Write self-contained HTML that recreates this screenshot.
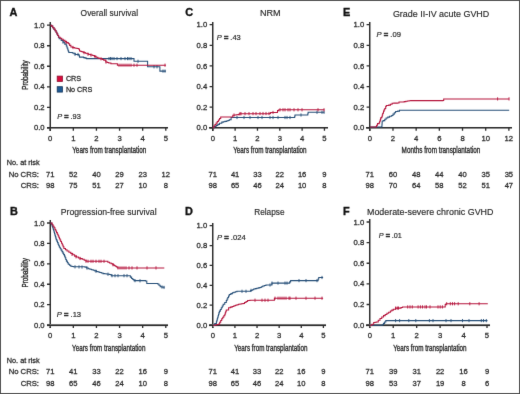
<!DOCTYPE html><html><head><meta charset="utf-8"><style>html,body{margin:0;padding:0;background:#fff;}svg{display:block;font-family:"Liberation Sans", sans-serif;}</style></head><body>
<svg width="520" height="394" viewBox="0 0 520 394">
<defs><filter id="bl" x="-1%" y="-1%" width="102%" height="102%" color-interpolation-filters="sRGB"><feConvolveMatrix order="3" kernelMatrix="0.0052 0.0619 0.0052 0.0619 0.7314 0.0619 0.0052 0.0619 0.0052" edgeMode="duplicate" preserveAlpha="true"/></filter></defs>
<g filter="url(#bl)">
<rect x="0" y="0" width="520" height="394" fill="#fff"/>
<rect x="0.5" y="0.5" width="519" height="393" fill="none" stroke="#5a5a5a" stroke-width="1"/>
<rect x="50" y="22" width="1" height="109" fill="#2d2d2d" shape-rendering="crispEdges"/>
<rect x="49" y="22" width="1" height="109" fill="#9a9a9a" shape-rendering="crispEdges"/>
<rect x="47" y="127" width="121" height="1" fill="#2b2b2b" shape-rendering="crispEdges"/>
<rect x="47" y="128" width="121" height="1" fill="#8a8a8a" shape-rendering="crispEdges"/>
<path d="M47 127.85H50.2M47 107.32H50.2M47 86.79H50.2M47 66.26H50.2M47 45.73H50.2M47 25.2H50.2M50.2 127.85V130.65M73.32 127.85V130.65M96.44 127.85V130.65M119.56 127.85V130.65M142.68 127.85V130.65M165.8 127.85V130.65" stroke="#2b2b2b" stroke-width="1.3" fill="none"/>
<text x="44.6" y="130.45" font-size="7.7" text-anchor="end" font-weight="normal" font-style="normal" fill="#2a2a2a" stroke="#2a2a2a" stroke-width="0.26">0.0</text>
<text x="44.6" y="109.92" font-size="7.7" text-anchor="end" font-weight="normal" font-style="normal" fill="#2a2a2a" stroke="#2a2a2a" stroke-width="0.26">0.2</text>
<text x="44.6" y="89.39" font-size="7.7" text-anchor="end" font-weight="normal" font-style="normal" fill="#2a2a2a" stroke="#2a2a2a" stroke-width="0.26">0.4</text>
<text x="44.6" y="68.86" font-size="7.7" text-anchor="end" font-weight="normal" font-style="normal" fill="#2a2a2a" stroke="#2a2a2a" stroke-width="0.26">0.6</text>
<text x="44.6" y="48.33" font-size="7.7" text-anchor="end" font-weight="normal" font-style="normal" fill="#2a2a2a" stroke="#2a2a2a" stroke-width="0.26">0.8</text>
<text x="44.6" y="27.8" font-size="7.7" text-anchor="end" font-weight="normal" font-style="normal" fill="#2a2a2a" stroke="#2a2a2a" stroke-width="0.26">1.0</text>
<text x="50.2" y="140.65" font-size="7.7" text-anchor="middle" font-weight="normal" font-style="normal" fill="#2a2a2a" stroke="#2a2a2a" stroke-width="0.26">0</text>
<text x="73.32" y="140.65" font-size="7.7" text-anchor="middle" font-weight="normal" font-style="normal" fill="#2a2a2a" stroke="#2a2a2a" stroke-width="0.26">1</text>
<text x="96.44" y="140.65" font-size="7.7" text-anchor="middle" font-weight="normal" font-style="normal" fill="#2a2a2a" stroke="#2a2a2a" stroke-width="0.26">2</text>
<text x="119.56" y="140.65" font-size="7.7" text-anchor="middle" font-weight="normal" font-style="normal" fill="#2a2a2a" stroke="#2a2a2a" stroke-width="0.26">3</text>
<text x="142.68" y="140.65" font-size="7.7" text-anchor="middle" font-weight="normal" font-style="normal" fill="#2a2a2a" stroke="#2a2a2a" stroke-width="0.26">4</text>
<text x="165.8" y="140.65" font-size="7.7" text-anchor="middle" font-weight="normal" font-style="normal" fill="#2a2a2a" stroke="#2a2a2a" stroke-width="0.26">5</text>
<rect x="50" y="220" width="1" height="108" fill="#2d2d2d" shape-rendering="crispEdges"/>
<rect x="49" y="220" width="1" height="108" fill="#9a9a9a" shape-rendering="crispEdges"/>
<rect x="47" y="324" width="121" height="1" fill="#737373" shape-rendering="crispEdges"/>
<rect x="47" y="325" width="121" height="1" fill="#292929" shape-rendering="crispEdges"/>
<rect x="47" y="326" width="121" height="1" fill="#e8e8e8" shape-rendering="crispEdges"/>
<path d="M47 325.1H50.2M47 304.68H50.2M47 284.26H50.2M47 263.84H50.2M47 243.42H50.2M47 223H50.2M50.2 325.1V327.9M73.32 325.1V327.9M96.44 325.1V327.9M119.56 325.1V327.9M142.68 325.1V327.9M165.8 325.1V327.9" stroke="#2b2b2b" stroke-width="1.3" fill="none"/>
<text x="44.6" y="327.7" font-size="7.7" text-anchor="end" font-weight="normal" font-style="normal" fill="#2a2a2a" stroke="#2a2a2a" stroke-width="0.26">0.0</text>
<text x="44.6" y="307.28" font-size="7.7" text-anchor="end" font-weight="normal" font-style="normal" fill="#2a2a2a" stroke="#2a2a2a" stroke-width="0.26">0.2</text>
<text x="44.6" y="286.86" font-size="7.7" text-anchor="end" font-weight="normal" font-style="normal" fill="#2a2a2a" stroke="#2a2a2a" stroke-width="0.26">0.4</text>
<text x="44.6" y="266.44" font-size="7.7" text-anchor="end" font-weight="normal" font-style="normal" fill="#2a2a2a" stroke="#2a2a2a" stroke-width="0.26">0.6</text>
<text x="44.6" y="246.02" font-size="7.7" text-anchor="end" font-weight="normal" font-style="normal" fill="#2a2a2a" stroke="#2a2a2a" stroke-width="0.26">0.8</text>
<text x="44.6" y="225.6" font-size="7.7" text-anchor="end" font-weight="normal" font-style="normal" fill="#2a2a2a" stroke="#2a2a2a" stroke-width="0.26">1.0</text>
<text x="50.2" y="337.9" font-size="7.7" text-anchor="middle" font-weight="normal" font-style="normal" fill="#2a2a2a" stroke="#2a2a2a" stroke-width="0.26">0</text>
<text x="73.32" y="337.9" font-size="7.7" text-anchor="middle" font-weight="normal" font-style="normal" fill="#2a2a2a" stroke="#2a2a2a" stroke-width="0.26">1</text>
<text x="96.44" y="337.9" font-size="7.7" text-anchor="middle" font-weight="normal" font-style="normal" fill="#2a2a2a" stroke="#2a2a2a" stroke-width="0.26">2</text>
<text x="119.56" y="337.9" font-size="7.7" text-anchor="middle" font-weight="normal" font-style="normal" fill="#2a2a2a" stroke="#2a2a2a" stroke-width="0.26">3</text>
<text x="142.68" y="337.9" font-size="7.7" text-anchor="middle" font-weight="normal" font-style="normal" fill="#2a2a2a" stroke="#2a2a2a" stroke-width="0.26">4</text>
<text x="165.8" y="337.9" font-size="7.7" text-anchor="middle" font-weight="normal" font-style="normal" fill="#2a2a2a" stroke="#2a2a2a" stroke-width="0.26">5</text>
<rect x="212" y="22" width="1" height="109" fill="#2d2d2d" shape-rendering="crispEdges"/>
<rect x="213" y="22" width="1" height="109" fill="#9a9a9a" shape-rendering="crispEdges"/>
<rect x="209" y="127" width="119" height="1" fill="#2b2b2b" shape-rendering="crispEdges"/>
<rect x="209" y="128" width="119" height="1" fill="#8a8a8a" shape-rendering="crispEdges"/>
<path d="M209.6 127.85H212.8M209.6 107.22H212.8M209.6 86.59H212.8M209.6 65.96H212.8M209.6 45.33H212.8M209.6 24.7H212.8M212.8 127.85V130.65M235.13 127.85V130.65M257.46 127.85V130.65M279.79 127.85V130.65M302.12 127.85V130.65M324.45 127.85V130.65" stroke="#2b2b2b" stroke-width="1.3" fill="none"/>
<text x="207.2" y="130.45" font-size="7.7" text-anchor="end" font-weight="normal" font-style="normal" fill="#2a2a2a" stroke="#2a2a2a" stroke-width="0.26">0.0</text>
<text x="207.2" y="109.82" font-size="7.7" text-anchor="end" font-weight="normal" font-style="normal" fill="#2a2a2a" stroke="#2a2a2a" stroke-width="0.26">0.2</text>
<text x="207.2" y="89.19" font-size="7.7" text-anchor="end" font-weight="normal" font-style="normal" fill="#2a2a2a" stroke="#2a2a2a" stroke-width="0.26">0.4</text>
<text x="207.2" y="68.56" font-size="7.7" text-anchor="end" font-weight="normal" font-style="normal" fill="#2a2a2a" stroke="#2a2a2a" stroke-width="0.26">0.6</text>
<text x="207.2" y="47.93" font-size="7.7" text-anchor="end" font-weight="normal" font-style="normal" fill="#2a2a2a" stroke="#2a2a2a" stroke-width="0.26">0.8</text>
<text x="207.2" y="27.3" font-size="7.7" text-anchor="end" font-weight="normal" font-style="normal" fill="#2a2a2a" stroke="#2a2a2a" stroke-width="0.26">1.0</text>
<text x="212.8" y="140.65" font-size="7.7" text-anchor="middle" font-weight="normal" font-style="normal" fill="#2a2a2a" stroke="#2a2a2a" stroke-width="0.26">0</text>
<text x="235.13" y="140.65" font-size="7.7" text-anchor="middle" font-weight="normal" font-style="normal" fill="#2a2a2a" stroke="#2a2a2a" stroke-width="0.26">1</text>
<text x="257.46" y="140.65" font-size="7.7" text-anchor="middle" font-weight="normal" font-style="normal" fill="#2a2a2a" stroke="#2a2a2a" stroke-width="0.26">2</text>
<text x="279.79" y="140.65" font-size="7.7" text-anchor="middle" font-weight="normal" font-style="normal" fill="#2a2a2a" stroke="#2a2a2a" stroke-width="0.26">3</text>
<text x="302.12" y="140.65" font-size="7.7" text-anchor="middle" font-weight="normal" font-style="normal" fill="#2a2a2a" stroke="#2a2a2a" stroke-width="0.26">4</text>
<text x="324.45" y="140.65" font-size="7.7" text-anchor="middle" font-weight="normal" font-style="normal" fill="#2a2a2a" stroke="#2a2a2a" stroke-width="0.26">5</text>
<rect x="212" y="223" width="1" height="105" fill="#2d2d2d" shape-rendering="crispEdges"/>
<rect x="213" y="223" width="1" height="105" fill="#9a9a9a" shape-rendering="crispEdges"/>
<rect x="209" y="324" width="117" height="1" fill="#737373" shape-rendering="crispEdges"/>
<rect x="209" y="325" width="117" height="1" fill="#292929" shape-rendering="crispEdges"/>
<rect x="209" y="326" width="117" height="1" fill="#e8e8e8" shape-rendering="crispEdges"/>
<path d="M209.6 325.1H212.8M209.6 305.22H212.8M209.6 285.34H212.8M209.6 265.46H212.8M209.6 245.58H212.8M209.6 225.7H212.8M212.8 325.1V327.9M234.92 325.1V327.9M257.04 325.1V327.9M279.16 325.1V327.9M301.28 325.1V327.9M323.4 325.1V327.9" stroke="#2b2b2b" stroke-width="1.3" fill="none"/>
<text x="207.2" y="327.7" font-size="7.7" text-anchor="end" font-weight="normal" font-style="normal" fill="#2a2a2a" stroke="#2a2a2a" stroke-width="0.26">0.0</text>
<text x="207.2" y="307.82" font-size="7.7" text-anchor="end" font-weight="normal" font-style="normal" fill="#2a2a2a" stroke="#2a2a2a" stroke-width="0.26">0.2</text>
<text x="207.2" y="287.94" font-size="7.7" text-anchor="end" font-weight="normal" font-style="normal" fill="#2a2a2a" stroke="#2a2a2a" stroke-width="0.26">0.4</text>
<text x="207.2" y="268.06" font-size="7.7" text-anchor="end" font-weight="normal" font-style="normal" fill="#2a2a2a" stroke="#2a2a2a" stroke-width="0.26">0.6</text>
<text x="207.2" y="248.18" font-size="7.7" text-anchor="end" font-weight="normal" font-style="normal" fill="#2a2a2a" stroke="#2a2a2a" stroke-width="0.26">0.8</text>
<text x="207.2" y="228.3" font-size="7.7" text-anchor="end" font-weight="normal" font-style="normal" fill="#2a2a2a" stroke="#2a2a2a" stroke-width="0.26">1.0</text>
<text x="212.8" y="337.9" font-size="7.7" text-anchor="middle" font-weight="normal" font-style="normal" fill="#2a2a2a" stroke="#2a2a2a" stroke-width="0.26">0</text>
<text x="234.92" y="337.9" font-size="7.7" text-anchor="middle" font-weight="normal" font-style="normal" fill="#2a2a2a" stroke="#2a2a2a" stroke-width="0.26">1</text>
<text x="257.04" y="337.9" font-size="7.7" text-anchor="middle" font-weight="normal" font-style="normal" fill="#2a2a2a" stroke="#2a2a2a" stroke-width="0.26">2</text>
<text x="279.16" y="337.9" font-size="7.7" text-anchor="middle" font-weight="normal" font-style="normal" fill="#2a2a2a" stroke="#2a2a2a" stroke-width="0.26">3</text>
<text x="301.28" y="337.9" font-size="7.7" text-anchor="middle" font-weight="normal" font-style="normal" fill="#2a2a2a" stroke="#2a2a2a" stroke-width="0.26">4</text>
<text x="323.4" y="337.9" font-size="7.7" text-anchor="middle" font-weight="normal" font-style="normal" fill="#2a2a2a" stroke="#2a2a2a" stroke-width="0.26">5</text>
<rect x="369" y="22" width="1" height="109" fill="#2d2d2d" shape-rendering="crispEdges"/>
<rect x="370" y="22" width="1" height="109" fill="#9a9a9a" shape-rendering="crispEdges"/>
<rect x="366" y="127" width="146" height="1" fill="#2b2b2b" shape-rendering="crispEdges"/>
<rect x="366" y="128" width="146" height="1" fill="#8a8a8a" shape-rendering="crispEdges"/>
<path d="M366.6 127.85H369.8M366.6 107.22H369.8M366.6 86.59H369.8M366.6 65.96H369.8M366.6 45.33H369.8M366.6 24.7H369.8M369.8 127.85V130.65M392.98 127.85V130.65M416.16 127.85V130.65M439.34 127.85V130.65M462.52 127.85V130.65M485.7 127.85V130.65M508.88 127.85V130.65" stroke="#2b2b2b" stroke-width="1.3" fill="none"/>
<text x="364.2" y="130.45" font-size="7.7" text-anchor="end" font-weight="normal" font-style="normal" fill="#2a2a2a" stroke="#2a2a2a" stroke-width="0.26">0.0</text>
<text x="364.2" y="109.82" font-size="7.7" text-anchor="end" font-weight="normal" font-style="normal" fill="#2a2a2a" stroke="#2a2a2a" stroke-width="0.26">0.2</text>
<text x="364.2" y="89.19" font-size="7.7" text-anchor="end" font-weight="normal" font-style="normal" fill="#2a2a2a" stroke="#2a2a2a" stroke-width="0.26">0.4</text>
<text x="364.2" y="68.56" font-size="7.7" text-anchor="end" font-weight="normal" font-style="normal" fill="#2a2a2a" stroke="#2a2a2a" stroke-width="0.26">0.6</text>
<text x="364.2" y="47.93" font-size="7.7" text-anchor="end" font-weight="normal" font-style="normal" fill="#2a2a2a" stroke="#2a2a2a" stroke-width="0.26">0.8</text>
<text x="364.2" y="27.3" font-size="7.7" text-anchor="end" font-weight="normal" font-style="normal" fill="#2a2a2a" stroke="#2a2a2a" stroke-width="0.26">1.0</text>
<text x="369.8" y="140.65" font-size="7.7" text-anchor="middle" font-weight="normal" font-style="normal" fill="#2a2a2a" stroke="#2a2a2a" stroke-width="0.26">0</text>
<text x="392.98" y="140.65" font-size="7.7" text-anchor="middle" font-weight="normal" font-style="normal" fill="#2a2a2a" stroke="#2a2a2a" stroke-width="0.26">2</text>
<text x="416.16" y="140.65" font-size="7.7" text-anchor="middle" font-weight="normal" font-style="normal" fill="#2a2a2a" stroke="#2a2a2a" stroke-width="0.26">4</text>
<text x="439.34" y="140.65" font-size="7.7" text-anchor="middle" font-weight="normal" font-style="normal" fill="#2a2a2a" stroke="#2a2a2a" stroke-width="0.26">6</text>
<text x="462.52" y="140.65" font-size="7.7" text-anchor="middle" font-weight="normal" font-style="normal" fill="#2a2a2a" stroke="#2a2a2a" stroke-width="0.26">8</text>
<text x="485.7" y="140.65" font-size="7.7" text-anchor="middle" font-weight="normal" font-style="normal" fill="#2a2a2a" stroke="#2a2a2a" stroke-width="0.26">10</text>
<text x="508.88" y="140.65" font-size="7.7" text-anchor="middle" font-weight="normal" font-style="normal" fill="#2a2a2a" stroke="#2a2a2a" stroke-width="0.26">12</text>
<rect x="369" y="219" width="1" height="109" fill="#2d2d2d" shape-rendering="crispEdges"/>
<rect x="370" y="219" width="1" height="109" fill="#9a9a9a" shape-rendering="crispEdges"/>
<rect x="366" y="324" width="124" height="1" fill="#737373" shape-rendering="crispEdges"/>
<rect x="366" y="325" width="124" height="1" fill="#292929" shape-rendering="crispEdges"/>
<rect x="366" y="326" width="124" height="1" fill="#e8e8e8" shape-rendering="crispEdges"/>
<path d="M366.6 325.1H369.8M366.6 304.48H369.8M366.6 283.86H369.8M366.6 263.24H369.8M366.6 242.62H369.8M366.6 222H369.8M369.8 325.1V327.9M393.24 325.1V327.9M416.68 325.1V327.9M440.12 325.1V327.9M463.56 325.1V327.9M487 325.1V327.9" stroke="#2b2b2b" stroke-width="1.3" fill="none"/>
<text x="364.2" y="327.7" font-size="7.7" text-anchor="end" font-weight="normal" font-style="normal" fill="#2a2a2a" stroke="#2a2a2a" stroke-width="0.26">0.0</text>
<text x="364.2" y="307.08" font-size="7.7" text-anchor="end" font-weight="normal" font-style="normal" fill="#2a2a2a" stroke="#2a2a2a" stroke-width="0.26">0.2</text>
<text x="364.2" y="286.46" font-size="7.7" text-anchor="end" font-weight="normal" font-style="normal" fill="#2a2a2a" stroke="#2a2a2a" stroke-width="0.26">0.4</text>
<text x="364.2" y="265.84" font-size="7.7" text-anchor="end" font-weight="normal" font-style="normal" fill="#2a2a2a" stroke="#2a2a2a" stroke-width="0.26">0.6</text>
<text x="364.2" y="245.22" font-size="7.7" text-anchor="end" font-weight="normal" font-style="normal" fill="#2a2a2a" stroke="#2a2a2a" stroke-width="0.26">0.8</text>
<text x="364.2" y="224.6" font-size="7.7" text-anchor="end" font-weight="normal" font-style="normal" fill="#2a2a2a" stroke="#2a2a2a" stroke-width="0.26">1.0</text>
<text x="369.8" y="337.9" font-size="7.7" text-anchor="middle" font-weight="normal" font-style="normal" fill="#2a2a2a" stroke="#2a2a2a" stroke-width="0.26">0</text>
<text x="393.24" y="337.9" font-size="7.7" text-anchor="middle" font-weight="normal" font-style="normal" fill="#2a2a2a" stroke="#2a2a2a" stroke-width="0.26">1</text>
<text x="416.68" y="337.9" font-size="7.7" text-anchor="middle" font-weight="normal" font-style="normal" fill="#2a2a2a" stroke="#2a2a2a" stroke-width="0.26">2</text>
<text x="440.12" y="337.9" font-size="7.7" text-anchor="middle" font-weight="normal" font-style="normal" fill="#2a2a2a" stroke="#2a2a2a" stroke-width="0.26">3</text>
<text x="463.56" y="337.9" font-size="7.7" text-anchor="middle" font-weight="normal" font-style="normal" fill="#2a2a2a" stroke="#2a2a2a" stroke-width="0.26">4</text>
<text x="487" y="337.9" font-size="7.7" text-anchor="middle" font-weight="normal" font-style="normal" fill="#2a2a2a" stroke="#2a2a2a" stroke-width="0.26">5</text>
<path d="M50.3 25.2H51.6V26.1H52.73V27.62H53.85V29.15H54.98V30.68H56.1V32.2H56.88V33.85H57.65V35.5H58.43V37.15H59.2V38.8H61.2V40.55H63.2V42.3H64.75V44.1H66.3V45.9H67.05V47.9H67.8V49.9H68.3V51.2H68.8V52.5H72.4V53H73.9V53.75H75.4V54.5H78.5V54.5H79V55.8H79.5V57.1H83.6V57.6H85.1V58.1H86.6V58.6H134V58.6H134V59.95H134V61.3H147.6V61.3H147.6V63.13H147.6V64.97H147.6V66.8H159.9V66.8H159.9V68.23H159.9V69.67H159.9V71.1H165.9V71.1" stroke="#264f78" stroke-width="1.05" fill="none" stroke-linejoin="miter"/>
<path d="M63 40.52V43.72M75 52.7V55.9M78 52.9V56.1M109 57V60.2M110.5 57V60.2M112 57V60.2M114 57V60.2M117 57V60.2M121 57V60.2M125 57V60.2M127.5 57V60.2M129 57V60.2M131 57V60.2M138 59.7V62.9M154 65.2V68.4M157 65.2V68.4M163 69.5V72.7M165 69.5V72.7" stroke="#264f78" stroke-width="0.9" fill="none"/>
<path d="M50.3 25.2H51.6V26.1H52.77V27.6H53.93V29.1H55.1V30.6H56V32.25H56.9V33.9H57.8V35.55H58.7V37.2H60.2V38.23H61.7V39.27H63.2V40.3H64.9V41.47H66.6V42.63H68.3V43.8H69.6V45.35H70.9V46.9H72.65V47.4H74.4V47.9H75.77V48.23H77.13V48.57H78.5V48.9H79.5V51H80.87V51.5H82.23V52H83.6V52.5H85.3V53.17H87V53.83H88.7V54.5H90.7V55H92.7V55.5H94.4V56.37H96.1V57.23H97.8V58.1H99.3V58.4H100.8V58.7H102.25V59.4H103.7V60.1H105.8V62H107.25V62.5H108.7V63H110.9V63.8H115.9V63.8H117.4V65.2H165.9V65.2" stroke="#b5143c" stroke-width="1.05" fill="none" stroke-linejoin="miter"/>
<path d="M66 40.62V43.82M73 45.9V49.1M84 51.06V54.26M88 52.63V55.83M91 53.48V56.68M95 55.07V58.27M101 57.2V60.4M106 60.47V63.67M119 63.6V66.8M121 63.6V66.8M123 63.6V66.8M125 63.6V66.8M127 63.6V66.8M129 63.6V66.8M131 63.6V66.8M134 63.6V66.8M137 63.6V66.8M165 63.6V66.8" stroke="#b5143c" stroke-width="0.9" fill="none"/>
<path d="M50.3 223H51.2V223.1H51.7V224.62H52.2V226.14H52.7V227.66H53.2V229.18H53.7V230.7H54.12V232.18H54.53V233.67H54.95V235.15H55.37V236.63H55.78V238.12H56.2V239.6H56.84V241.12H57.48V242.64H58.12V244.16H58.76V245.68H59.4V247.2H60.27V248.67H61.13V250.13H62V251.6H62.83V253.1H63.67V254.6H64.5V256.1H65.13V257.77H65.77V259.43H66.4V261.1H67.35V262.7H68.3V264.3H69.55V265.25H70.8V266.2H72.1V266.5H73.4V266.8H85V267.1H86.65V267.9H88.3V268.7H89.93V269.23H91.57V269.77H93.2V270.3H94.83V270.87H96.47V271.43H98.1V272H99.73V272.53H101.37V273.07H103V273.6H104.62V273.8H106.25V274H107.88V274.2H109.5V274.4H111.2V275.7H129.1V275.7H130.35V277.1H131.6V278.5H132.8V279.55H134V280.6H145.5V281H146.8V283.4H157.7V283.9H158.95V285.3H160.2V286.7H161.57V286.97H162.93V287.23H164.3V287.5" stroke="#264f78" stroke-width="1.05" fill="none" stroke-linejoin="miter"/>
<path d="M75 265.24V268.44M79 265.34V268.54M82 265.42V268.62M87 266.47V269.67M96 269.67V272.87M108 272.62V275.82M112 274.1V277.3M115 274.1V277.3M118 274.1V277.3M124 274.1V277.3M127 274.1V277.3M135 279.03V282.23M140 279.21V282.41M162 285.45V288.65M164 285.84V289.04" stroke="#264f78" stroke-width="0.9" fill="none"/>
<path d="M50.3 223H51.2V223.1H52.15V224.68H53.1V226.25H54.05V227.82H55V229.4H55.77V231H56.55V232.6H57.33V234.2H58.1V235.8H58.75V237.23H59.4V238.65H60.05V240.07H60.7V241.5H61.5V243.22H62.3V244.95H63.1V246.68H63.9V248.4H65.45V249.7H67V251H68.9V252.25H70.8V253.5H72.7V254.8H74.6V256.1H76.5V257.05H78.4V258H80.35V258.6H82.3V259.2H84.2V260.25H86.1V261.3H89.9V261.3H106.2V261.3H107.85V262.15H109.5V263H111.15V263.8H112.8V264.6H114V265.4H115.2V266.2H116.45V267.05H117.7V267.9H164.3V267.9" stroke="#b5143c" stroke-width="1.05" fill="none" stroke-linejoin="miter"/>
<path d="M72 252.72V255.92M76 255.2V258.4M80 256.89V260.09M86 259.64V262.84M88 259.7V262.9M91 259.7V262.9M93 259.7V262.9M96 259.7V262.9M99 259.7V262.9M101 259.7V262.9M104 259.7V262.9M113 263.13V266.33M118 266.3V269.5M120 266.3V269.5M122 266.3V269.5M124 266.3V269.5M126 266.3V269.5M129 266.3V269.5M132 266.3V269.5M137 266.3V269.5M147 266.3V269.5M156 266.3V269.5" stroke="#b5143c" stroke-width="0.9" fill="none"/>
<path d="M212.7 127.6H214.4V126.52H216.1V125.45H217.8V124.38H219.5V123.3H221.8V122.1H223.37V121.73H224.93V121.37H226.5V121H227.9V120.4H229.3V119.8H231.1V117.5H294.4V117.5H294.7V116.25H295V115H307.5V115H307.8V113.65H308.1V112.3H324.4V112.3" stroke="#264f78" stroke-width="1.05" fill="none" stroke-linejoin="miter"/>
<path d="M237 115.9V119.1M244 115.9V119.1M250 115.9V119.1M258 115.9V119.1M262 115.9V119.1M270 115.9V119.1M273 115.9V119.1M278 115.9V119.1M285 115.9V119.1M287 115.9V119.1M290 115.9V119.1M301 113.4V116.6M317 110.7V113.9M322 110.7V113.9M324 110.7V113.9" stroke="#264f78" stroke-width="0.9" fill="none"/>
<path d="M212.7 127.6H213.84V126.07H214.99V124.54H216.13V123.01H217.27V121.49H218.41V119.96H219.56V118.43H220.7V116.9H231.1V116.9H232.8V115.2H234.53V115H236.27V114.8H238V114.6H239.2V113.7H270V113.5H270.6V112.5H276.3V112.5H277.5V110.6H278.8V109.8H324.4V109.8" stroke="#b5143c" stroke-width="1.05" fill="none" stroke-linejoin="miter"/>
<path d="M234 113.46V116.66M240 112.09V115.29M241 112.09V115.29M245 112.06V115.26M249 112.04V115.24M253 112.01V115.21M256 111.99V115.19M260 111.96V115.16M263 111.95V115.15M266 111.93V115.13M269 111.91V115.11M273 110.9V114.1M280 108.2V111.4M283 108.2V111.4M285 108.2V111.4M288 108.2V111.4M290 108.2V111.4M294 108.2V111.4M298 108.2V111.4M302 108.2V111.4M318 108.2V111.4M324 108.2V111.4" stroke="#b5143c" stroke-width="0.9" fill="none"/>
<path d="M213.1 325.3H214.75V323.55H216.4V321.8H216.83V320.27H217.26V318.74H217.69V317.21H218.11V315.69H218.54V314.16H218.97V312.63H219.4V311.1H220.35V309.4H221.3V307.7H222.25V306H223.2V304.3H224.75V302.4H226.3V300.5H227.05V298.98H227.8V297.45H228.55V295.92H229.3V294.4H230.85V293.6H232.4V292.8H233.9V292.3H235.4V291.8H236.9V291.3H249.1V291.3H250.63V290.53H252.17V289.77H253.7V289H255.22V288.62H256.75V288.25H258.27V287.88H259.8V287.5H261.3V286.75H262.8V286H264.35V285.5H265.9V285H270.6V285H271.9V283.1H288.75V283.1H289.68V281.85H290.6V280.6H317.5V280.6H318.12V279.05H318.75V277.5H323.1V277.5" stroke="#264f78" stroke-width="1.05" fill="none" stroke-linejoin="miter"/>
<path d="M242 289.7V292.9M246 289.7V292.9M251 288.75V291.95M270 283.4V286.6M272 281.5V284.7M278 281.5V284.7M285 281.5V284.7M287 281.5V284.7M299 279V282.2M306 279V282.2M317 279V282.2M322 275.9V279.1" stroke="#264f78" stroke-width="0.9" fill="none"/>
<path d="M213.1 325.3H214.97V324.9H216.83V324.5H218.7V324.1H219.7V322.3H220.7V320.5H221.7V318.7H222.73V317.2H223.77V315.7H224.8V314.2H225.3V312.77H225.8V311.33H226.3V309.9H228.6V307.8H230.37V307.13H232.13V306.47H233.9V305.8H235.43V305.3H236.97V304.8H238.5V304.3H240V304.03H241.5V303.77H243V303.5H244.53V302.5H246.07V301.5H247.6V300.5H249.9V300.2H272.5V300.2H274.4V298.2H323.1V298.2" stroke="#b5143c" stroke-width="1.05" fill="none" stroke-linejoin="miter"/>
<path d="M255 298.6V301.8M262 298.6V301.8M265 298.6V301.8M268 298.6V301.8M275 296.6V299.8M278 296.6V299.8M280 296.6V299.8M282 296.6V299.8M284 296.6V299.8M286 296.6V299.8M289 296.6V299.8M290 296.6V299.8M296 296.6V299.8M306 296.6V299.8M315 296.6V299.8M322 296.6V299.8" stroke="#b5143c" stroke-width="0.9" fill="none"/>
<path d="M370 127H381.8V126.6H381.93V124.73H382.07V122.87H382.2V121H383.5V120.6H384.8V119.3H386.1V118H387.8V117.1H389.6V116.3H391.7V115.4H393V114.1H394.3V112.8H395.6V111.5H397.7V111.1H399.5V110.2H509.2V110.2" stroke="#264f78" stroke-width="1.05" fill="none" stroke-linejoin="miter"/>
<path d="M370 127H376.2V126.6H376.6V125.3H377.5V123.6H379.2V122.7H379.65V121.4H380.1V120.1H380.5V118.85H380.9V117.6H381.8V116.7H382.25V114.95H382.7V113.2H383.5V111.1H384.15V109.8H384.8V108.5H385.7V106.3H386.5V105.5H388.7V105.1H390.4V104.2H392.1V103.3H393.9V103.1H397.3V102.9H399V102H404.2V101.6H405.9V101.2H407.5V101H409.1V100.8H410.7V100.6H442.8V100.4H443.7V98.9H509.2V98.9" stroke="#b5143c" stroke-width="1.05" fill="none" stroke-linejoin="miter"/>
<path d="M497.6 97.3V100.5M509 97.3V100.5" stroke="#b5143c" stroke-width="0.9" fill="none"/>
<path d="M369.8 325.3H382.3V324.8H383.45V323.35H384.6V321.9H385.8V320.6H487.5V320.6" stroke="#264f78" stroke-width="1.05" fill="none" stroke-linejoin="miter"/>
<path d="M395.6 319V322.2M399.6 319V322.2M408.8 319V322.2M415.8 319V322.2M429.4 319V322.2M433 319V322.2M446 319V322.2M451 319V322.2M462.5 319V322.2M469 319V322.2M481.3 319V322.2M483.5 319V322.2M486.3 319V322.2" stroke="#264f78" stroke-width="0.9" fill="none"/>
<path d="M369.8 325.3H371.9V324.2H373.7V322.5H375.1V322.2H376.5V321.9H378.25V320.2H380V318.5H381.75V317.05H383.5V315.6H385.2V314.45H386.9V313.3H388.65V312.15H390.4V311H391.85V310.1H393.3V309.2H395.6V308.1H399.6V308.1H401.05V307.5H402.5V306.9H443.1V306.9H445.2V304.5H446V303.75H487.8V303.75" stroke="#b5143c" stroke-width="1.05" fill="none" stroke-linejoin="miter"/>
<path d="M395.6 306.5V309.7M397.3 306.5V309.7M398.5 306.5V309.7M407.7 305.3V308.5M410 305.3V308.5M412.3 305.3V308.5M418.1 305.3V308.5M420.4 305.3V308.5M422.5 305.3V308.5M425 305.3V308.5M426.5 305.3V308.5M430 305.3V308.5M438 305.3V308.5M440.2 305.3V308.5M442.4 305.3V308.5M446.7 302.15V305.35M450.3 302.15V305.35M452.5 302.15V305.35M454.6 302.15V305.35M458.2 302.15V305.35M469.8 302.15V305.35M479.1 302.15V305.35" stroke="#b5143c" stroke-width="0.9" fill="none"/>
<text x="9.4" y="15.8" font-size="10.9" text-anchor="start" font-weight="bold" font-style="normal" fill="#111" stroke="#111" stroke-width="0.35">A</text>
<text x="9.9" y="214.6" font-size="10.9" text-anchor="start" font-weight="bold" font-style="normal" fill="#111" stroke="#111" stroke-width="0.35">B</text>
<text x="185.3" y="15.9" font-size="10.9" text-anchor="start" font-weight="bold" font-style="normal" fill="#111" stroke="#111" stroke-width="0.35">C</text>
<text x="185.1" y="214.9" font-size="10.9" text-anchor="start" font-weight="bold" font-style="normal" fill="#111" stroke="#111" stroke-width="0.35">D</text>
<text x="343" y="15.9" font-size="10.9" text-anchor="start" font-weight="bold" font-style="normal" fill="#111" stroke="#111" stroke-width="0.35">E</text>
<text x="343" y="215" font-size="10.9" text-anchor="start" font-weight="bold" font-style="normal" fill="#111" stroke="#111" stroke-width="0.35">F</text>
<text x="80.6" y="16.4" font-size="9.9" text-anchor="start" font-weight="normal" font-style="normal" fill="#2a2a2a" textLength="57.4" lengthAdjust="spacingAndGlyphs" stroke="#2a2a2a" stroke-width="0.18">Overall survival</text>
<text x="260" y="16.3" font-size="9.9" text-anchor="start" font-weight="normal" font-style="normal" fill="#2a2a2a" textLength="20.6" lengthAdjust="spacingAndGlyphs" stroke="#2a2a2a" stroke-width="0.18">NRM</text>
<text x="392.9" y="16.5" font-size="9.9" text-anchor="start" font-weight="normal" font-style="normal" fill="#2a2a2a" textLength="96.4" lengthAdjust="spacingAndGlyphs" stroke="#2a2a2a" stroke-width="0.18">Grade II-IV acute GVHD</text>
<text x="60.8" y="215" font-size="9.9" text-anchor="start" font-weight="normal" font-style="normal" fill="#2a2a2a" textLength="95.8" lengthAdjust="spacingAndGlyphs" stroke="#2a2a2a" stroke-width="0.18">Progression-free survival</text>
<text x="254.2" y="215" font-size="9.9" text-anchor="start" font-weight="normal" font-style="normal" fill="#2a2a2a" textLength="30.4" lengthAdjust="spacingAndGlyphs" stroke="#2a2a2a" stroke-width="0.18">Relapse</text>
<text x="367" y="215" font-size="9.9" text-anchor="start" font-weight="normal" font-style="normal" fill="#2a2a2a" textLength="126.4" lengthAdjust="spacingAndGlyphs" stroke="#2a2a2a" stroke-width="0.18">Moderate-severe chronic GVHD</text>
<text x="72.2" y="153.1" font-size="9.2" text-anchor="start" font-weight="normal" font-style="normal" fill="#2a2a2a" textLength="74.2" lengthAdjust="spacingAndGlyphs" stroke="#2a2a2a" stroke-width="0.36">Years from transplantation</text>
<text x="233.2" y="153.4" font-size="9.2" text-anchor="start" font-weight="normal" font-style="normal" fill="#2a2a2a" textLength="73.4" lengthAdjust="spacingAndGlyphs" stroke="#2a2a2a" stroke-width="0.36">Years from transplantation</text>
<text x="401.6" y="153.4" font-size="9.2" text-anchor="start" font-weight="normal" font-style="normal" fill="#2a2a2a" textLength="78.8" lengthAdjust="spacingAndGlyphs" stroke="#2a2a2a" stroke-width="0.36">Months from transplantation</text>
<text x="72" y="350.9" font-size="9.2" text-anchor="start" font-weight="normal" font-style="normal" fill="#2a2a2a" textLength="73.4" lengthAdjust="spacingAndGlyphs" stroke="#2a2a2a" stroke-width="0.36">Years from transplantation</text>
<text x="234.2" y="350.9" font-size="9.2" text-anchor="start" font-weight="normal" font-style="normal" fill="#2a2a2a" textLength="73.2" lengthAdjust="spacingAndGlyphs" stroke="#2a2a2a" stroke-width="0.36">Years from transplantation</text>
<text x="393.2" y="350.9" font-size="9.2" text-anchor="start" font-weight="normal" font-style="normal" fill="#2a2a2a" textLength="73.4" lengthAdjust="spacingAndGlyphs" stroke="#2a2a2a" stroke-width="0.36">Years from transplantation</text>
<text transform="translate(27.6 75) rotate(-90)" x="0" y="0" font-size="8.4" text-anchor="middle" fill="#2a2a2a" stroke="#2a2a2a" stroke-width="0.36" textLength="29.4" lengthAdjust="spacingAndGlyphs">Probability</text>
<text transform="translate(27.6 272.8) rotate(-90)" x="0" y="0" font-size="8.4" text-anchor="middle" fill="#2a2a2a" stroke="#2a2a2a" stroke-width="0.36" textLength="29.4" lengthAdjust="spacingAndGlyphs">Probability</text>
<rect x="57.2" y="76.1" width="5.2" height="5.3" fill="#d80b3c" stroke="#8e0f2e" stroke-width="0.8"/>
<rect x="57.2" y="86.7" width="5.2" height="5.4" fill="#1d5a94" stroke="#14355a" stroke-width="0.8"/>
<text x="65.9" y="81" font-size="7.2" text-anchor="start" font-weight="normal" font-style="normal" fill="#2a2a2a" stroke="#2a2a2a" stroke-width="0.26">CRS</text>
<text x="65.9" y="92.2" font-size="7.2" text-anchor="start" font-weight="normal" font-style="normal" fill="#2a2a2a" stroke="#2a2a2a" stroke-width="0.26">No CRS</text>
<text x="57.2" y="118.7" font-size="7.9" fill="#2a2a2a" stroke="#2a2a2a" stroke-width="0.2" textLength="23.6" lengthAdjust="spacingAndGlyphs"><tspan font-style="italic">P</tspan> <tspan font-weight="bold" stroke-width="0.55">=</tspan> .93</text>
<text x="56.8" y="316.9" font-size="7.9" fill="#2a2a2a" stroke="#2a2a2a" stroke-width="0.2" textLength="24.3" lengthAdjust="spacingAndGlyphs"><tspan font-style="italic">P</tspan> <tspan font-weight="bold" stroke-width="0.55">=</tspan> .13</text>
<text x="216.8" y="39.7" font-size="7.9" fill="#2a2a2a" stroke="#2a2a2a" stroke-width="0.2" textLength="24" lengthAdjust="spacingAndGlyphs"><tspan font-style="italic">P</tspan> <tspan font-weight="bold" stroke-width="0.55">=</tspan> .43</text>
<text x="217" y="239.7" font-size="7.9" fill="#2a2a2a" stroke="#2a2a2a" stroke-width="0.2" textLength="28.7" lengthAdjust="spacingAndGlyphs"><tspan font-style="italic">P</tspan> <tspan font-weight="bold" stroke-width="0.55">=</tspan> .024</text>
<text x="376.6" y="37.1" font-size="7.9" fill="#2a2a2a" stroke="#2a2a2a" stroke-width="0.2" textLength="24.3" lengthAdjust="spacingAndGlyphs"><tspan font-style="italic">P</tspan> <tspan font-weight="bold" stroke-width="0.55">=</tspan> .09</text>
<text x="378.8" y="237.6" font-size="7.9" fill="#2a2a2a" stroke="#2a2a2a" stroke-width="0.2" textLength="23.1" lengthAdjust="spacingAndGlyphs"><tspan font-style="italic">P</tspan> <tspan font-weight="bold" stroke-width="0.55">=</tspan> .01</text>
<text x="50.2" y="176.7" font-size="7.6" text-anchor="middle" font-weight="normal" font-style="normal" fill="#2a2a2a" stroke="#2a2a2a" stroke-width="0.26">71</text>
<text x="50.2" y="188.3" font-size="7.6" text-anchor="middle" font-weight="normal" font-style="normal" fill="#2a2a2a" stroke="#2a2a2a" stroke-width="0.26">98</text>
<text x="73.32" y="176.7" font-size="7.6" text-anchor="middle" font-weight="normal" font-style="normal" fill="#2a2a2a" stroke="#2a2a2a" stroke-width="0.26">52</text>
<text x="73.32" y="188.3" font-size="7.6" text-anchor="middle" font-weight="normal" font-style="normal" fill="#2a2a2a" stroke="#2a2a2a" stroke-width="0.26">75</text>
<text x="96.44" y="176.7" font-size="7.6" text-anchor="middle" font-weight="normal" font-style="normal" fill="#2a2a2a" stroke="#2a2a2a" stroke-width="0.26">40</text>
<text x="96.44" y="188.3" font-size="7.6" text-anchor="middle" font-weight="normal" font-style="normal" fill="#2a2a2a" stroke="#2a2a2a" stroke-width="0.26">51</text>
<text x="119.56" y="176.7" font-size="7.6" text-anchor="middle" font-weight="normal" font-style="normal" fill="#2a2a2a" stroke="#2a2a2a" stroke-width="0.26">29</text>
<text x="119.56" y="188.3" font-size="7.6" text-anchor="middle" font-weight="normal" font-style="normal" fill="#2a2a2a" stroke="#2a2a2a" stroke-width="0.26">27</text>
<text x="142.68" y="176.7" font-size="7.6" text-anchor="middle" font-weight="normal" font-style="normal" fill="#2a2a2a" stroke="#2a2a2a" stroke-width="0.26">23</text>
<text x="142.68" y="188.3" font-size="7.6" text-anchor="middle" font-weight="normal" font-style="normal" fill="#2a2a2a" stroke="#2a2a2a" stroke-width="0.26">10</text>
<text x="165.8" y="176.7" font-size="7.6" text-anchor="middle" font-weight="normal" font-style="normal" fill="#2a2a2a" stroke="#2a2a2a" stroke-width="0.26">12</text>
<text x="165.8" y="188.3" font-size="7.6" text-anchor="middle" font-weight="normal" font-style="normal" fill="#2a2a2a" stroke="#2a2a2a" stroke-width="0.26">8</text>
<text x="50.2" y="374.3" font-size="7.6" text-anchor="middle" font-weight="normal" font-style="normal" fill="#2a2a2a" stroke="#2a2a2a" stroke-width="0.26">71</text>
<text x="50.2" y="386" font-size="7.6" text-anchor="middle" font-weight="normal" font-style="normal" fill="#2a2a2a" stroke="#2a2a2a" stroke-width="0.26">98</text>
<text x="73.32" y="374.3" font-size="7.6" text-anchor="middle" font-weight="normal" font-style="normal" fill="#2a2a2a" stroke="#2a2a2a" stroke-width="0.26">41</text>
<text x="73.32" y="386" font-size="7.6" text-anchor="middle" font-weight="normal" font-style="normal" fill="#2a2a2a" stroke="#2a2a2a" stroke-width="0.26">65</text>
<text x="96.44" y="374.3" font-size="7.6" text-anchor="middle" font-weight="normal" font-style="normal" fill="#2a2a2a" stroke="#2a2a2a" stroke-width="0.26">33</text>
<text x="96.44" y="386" font-size="7.6" text-anchor="middle" font-weight="normal" font-style="normal" fill="#2a2a2a" stroke="#2a2a2a" stroke-width="0.26">46</text>
<text x="119.56" y="374.3" font-size="7.6" text-anchor="middle" font-weight="normal" font-style="normal" fill="#2a2a2a" stroke="#2a2a2a" stroke-width="0.26">22</text>
<text x="119.56" y="386" font-size="7.6" text-anchor="middle" font-weight="normal" font-style="normal" fill="#2a2a2a" stroke="#2a2a2a" stroke-width="0.26">24</text>
<text x="142.68" y="374.3" font-size="7.6" text-anchor="middle" font-weight="normal" font-style="normal" fill="#2a2a2a" stroke="#2a2a2a" stroke-width="0.26">16</text>
<text x="142.68" y="386" font-size="7.6" text-anchor="middle" font-weight="normal" font-style="normal" fill="#2a2a2a" stroke="#2a2a2a" stroke-width="0.26">10</text>
<text x="165.8" y="374.3" font-size="7.6" text-anchor="middle" font-weight="normal" font-style="normal" fill="#2a2a2a" stroke="#2a2a2a" stroke-width="0.26">9</text>
<text x="165.8" y="386" font-size="7.6" text-anchor="middle" font-weight="normal" font-style="normal" fill="#2a2a2a" stroke="#2a2a2a" stroke-width="0.26">8</text>
<text x="212.8" y="176.7" font-size="7.6" text-anchor="middle" font-weight="normal" font-style="normal" fill="#2a2a2a" stroke="#2a2a2a" stroke-width="0.26">71</text>
<text x="212.8" y="188.3" font-size="7.6" text-anchor="middle" font-weight="normal" font-style="normal" fill="#2a2a2a" stroke="#2a2a2a" stroke-width="0.26">98</text>
<text x="235.13" y="176.7" font-size="7.6" text-anchor="middle" font-weight="normal" font-style="normal" fill="#2a2a2a" stroke="#2a2a2a" stroke-width="0.26">41</text>
<text x="235.13" y="188.3" font-size="7.6" text-anchor="middle" font-weight="normal" font-style="normal" fill="#2a2a2a" stroke="#2a2a2a" stroke-width="0.26">65</text>
<text x="257.46" y="176.7" font-size="7.6" text-anchor="middle" font-weight="normal" font-style="normal" fill="#2a2a2a" stroke="#2a2a2a" stroke-width="0.26">33</text>
<text x="257.46" y="188.3" font-size="7.6" text-anchor="middle" font-weight="normal" font-style="normal" fill="#2a2a2a" stroke="#2a2a2a" stroke-width="0.26">46</text>
<text x="279.79" y="176.7" font-size="7.6" text-anchor="middle" font-weight="normal" font-style="normal" fill="#2a2a2a" stroke="#2a2a2a" stroke-width="0.26">22</text>
<text x="279.79" y="188.3" font-size="7.6" text-anchor="middle" font-weight="normal" font-style="normal" fill="#2a2a2a" stroke="#2a2a2a" stroke-width="0.26">24</text>
<text x="302.12" y="176.7" font-size="7.6" text-anchor="middle" font-weight="normal" font-style="normal" fill="#2a2a2a" stroke="#2a2a2a" stroke-width="0.26">16</text>
<text x="302.12" y="188.3" font-size="7.6" text-anchor="middle" font-weight="normal" font-style="normal" fill="#2a2a2a" stroke="#2a2a2a" stroke-width="0.26">10</text>
<text x="324.45" y="176.7" font-size="7.6" text-anchor="middle" font-weight="normal" font-style="normal" fill="#2a2a2a" stroke="#2a2a2a" stroke-width="0.26">9</text>
<text x="324.45" y="188.3" font-size="7.6" text-anchor="middle" font-weight="normal" font-style="normal" fill="#2a2a2a" stroke="#2a2a2a" stroke-width="0.26">8</text>
<text x="212.8" y="374.3" font-size="7.6" text-anchor="middle" font-weight="normal" font-style="normal" fill="#2a2a2a" stroke="#2a2a2a" stroke-width="0.26">71</text>
<text x="212.8" y="386" font-size="7.6" text-anchor="middle" font-weight="normal" font-style="normal" fill="#2a2a2a" stroke="#2a2a2a" stroke-width="0.26">98</text>
<text x="234.92" y="374.3" font-size="7.6" text-anchor="middle" font-weight="normal" font-style="normal" fill="#2a2a2a" stroke="#2a2a2a" stroke-width="0.26">41</text>
<text x="234.92" y="386" font-size="7.6" text-anchor="middle" font-weight="normal" font-style="normal" fill="#2a2a2a" stroke="#2a2a2a" stroke-width="0.26">65</text>
<text x="257.04" y="374.3" font-size="7.6" text-anchor="middle" font-weight="normal" font-style="normal" fill="#2a2a2a" stroke="#2a2a2a" stroke-width="0.26">33</text>
<text x="257.04" y="386" font-size="7.6" text-anchor="middle" font-weight="normal" font-style="normal" fill="#2a2a2a" stroke="#2a2a2a" stroke-width="0.26">46</text>
<text x="279.16" y="374.3" font-size="7.6" text-anchor="middle" font-weight="normal" font-style="normal" fill="#2a2a2a" stroke="#2a2a2a" stroke-width="0.26">22</text>
<text x="279.16" y="386" font-size="7.6" text-anchor="middle" font-weight="normal" font-style="normal" fill="#2a2a2a" stroke="#2a2a2a" stroke-width="0.26">24</text>
<text x="301.28" y="374.3" font-size="7.6" text-anchor="middle" font-weight="normal" font-style="normal" fill="#2a2a2a" stroke="#2a2a2a" stroke-width="0.26">16</text>
<text x="301.28" y="386" font-size="7.6" text-anchor="middle" font-weight="normal" font-style="normal" fill="#2a2a2a" stroke="#2a2a2a" stroke-width="0.26">10</text>
<text x="323.4" y="374.3" font-size="7.6" text-anchor="middle" font-weight="normal" font-style="normal" fill="#2a2a2a" stroke="#2a2a2a" stroke-width="0.26">9</text>
<text x="323.4" y="386" font-size="7.6" text-anchor="middle" font-weight="normal" font-style="normal" fill="#2a2a2a" stroke="#2a2a2a" stroke-width="0.26">8</text>
<text x="369.8" y="176.7" font-size="7.6" text-anchor="middle" font-weight="normal" font-style="normal" fill="#2a2a2a" stroke="#2a2a2a" stroke-width="0.26">71</text>
<text x="369.8" y="188.3" font-size="7.6" text-anchor="middle" font-weight="normal" font-style="normal" fill="#2a2a2a" stroke="#2a2a2a" stroke-width="0.26">98</text>
<text x="392.98" y="176.7" font-size="7.6" text-anchor="middle" font-weight="normal" font-style="normal" fill="#2a2a2a" stroke="#2a2a2a" stroke-width="0.26">60</text>
<text x="392.98" y="188.3" font-size="7.6" text-anchor="middle" font-weight="normal" font-style="normal" fill="#2a2a2a" stroke="#2a2a2a" stroke-width="0.26">70</text>
<text x="416.16" y="176.7" font-size="7.6" text-anchor="middle" font-weight="normal" font-style="normal" fill="#2a2a2a" stroke="#2a2a2a" stroke-width="0.26">48</text>
<text x="416.16" y="188.3" font-size="7.6" text-anchor="middle" font-weight="normal" font-style="normal" fill="#2a2a2a" stroke="#2a2a2a" stroke-width="0.26">64</text>
<text x="439.34" y="176.7" font-size="7.6" text-anchor="middle" font-weight="normal" font-style="normal" fill="#2a2a2a" stroke="#2a2a2a" stroke-width="0.26">44</text>
<text x="439.34" y="188.3" font-size="7.6" text-anchor="middle" font-weight="normal" font-style="normal" fill="#2a2a2a" stroke="#2a2a2a" stroke-width="0.26">58</text>
<text x="462.52" y="176.7" font-size="7.6" text-anchor="middle" font-weight="normal" font-style="normal" fill="#2a2a2a" stroke="#2a2a2a" stroke-width="0.26">40</text>
<text x="462.52" y="188.3" font-size="7.6" text-anchor="middle" font-weight="normal" font-style="normal" fill="#2a2a2a" stroke="#2a2a2a" stroke-width="0.26">52</text>
<text x="485.7" y="176.7" font-size="7.6" text-anchor="middle" font-weight="normal" font-style="normal" fill="#2a2a2a" stroke="#2a2a2a" stroke-width="0.26">35</text>
<text x="485.7" y="188.3" font-size="7.6" text-anchor="middle" font-weight="normal" font-style="normal" fill="#2a2a2a" stroke="#2a2a2a" stroke-width="0.26">51</text>
<text x="508.88" y="176.7" font-size="7.6" text-anchor="middle" font-weight="normal" font-style="normal" fill="#2a2a2a" stroke="#2a2a2a" stroke-width="0.26">35</text>
<text x="508.88" y="188.3" font-size="7.6" text-anchor="middle" font-weight="normal" font-style="normal" fill="#2a2a2a" stroke="#2a2a2a" stroke-width="0.26">47</text>
<text x="369.8" y="374.3" font-size="7.6" text-anchor="middle" font-weight="normal" font-style="normal" fill="#2a2a2a" stroke="#2a2a2a" stroke-width="0.26">71</text>
<text x="369.8" y="386" font-size="7.6" text-anchor="middle" font-weight="normal" font-style="normal" fill="#2a2a2a" stroke="#2a2a2a" stroke-width="0.26">98</text>
<text x="393.24" y="374.3" font-size="7.6" text-anchor="middle" font-weight="normal" font-style="normal" fill="#2a2a2a" stroke="#2a2a2a" stroke-width="0.26">39</text>
<text x="393.24" y="386" font-size="7.6" text-anchor="middle" font-weight="normal" font-style="normal" fill="#2a2a2a" stroke="#2a2a2a" stroke-width="0.26">53</text>
<text x="416.68" y="374.3" font-size="7.6" text-anchor="middle" font-weight="normal" font-style="normal" fill="#2a2a2a" stroke="#2a2a2a" stroke-width="0.26">31</text>
<text x="416.68" y="386" font-size="7.6" text-anchor="middle" font-weight="normal" font-style="normal" fill="#2a2a2a" stroke="#2a2a2a" stroke-width="0.26">37</text>
<text x="440.12" y="374.3" font-size="7.6" text-anchor="middle" font-weight="normal" font-style="normal" fill="#2a2a2a" stroke="#2a2a2a" stroke-width="0.26">22</text>
<text x="440.12" y="386" font-size="7.6" text-anchor="middle" font-weight="normal" font-style="normal" fill="#2a2a2a" stroke="#2a2a2a" stroke-width="0.26">19</text>
<text x="463.56" y="374.3" font-size="7.6" text-anchor="middle" font-weight="normal" font-style="normal" fill="#2a2a2a" stroke="#2a2a2a" stroke-width="0.26">16</text>
<text x="463.56" y="386" font-size="7.6" text-anchor="middle" font-weight="normal" font-style="normal" fill="#2a2a2a" stroke="#2a2a2a" stroke-width="0.26">8</text>
<text x="487" y="374.3" font-size="7.6" text-anchor="middle" font-weight="normal" font-style="normal" fill="#2a2a2a" stroke="#2a2a2a" stroke-width="0.26">9</text>
<text x="487" y="386" font-size="7.6" text-anchor="middle" font-weight="normal" font-style="normal" fill="#2a2a2a" stroke="#2a2a2a" stroke-width="0.26">6</text>
<text x="6.8" y="165.2" font-size="7.3" text-anchor="start" font-weight="normal" font-style="normal" fill="#2a2a2a" stroke="#2a2a2a" stroke-width="0.26">No. at risk</text>
<text x="39" y="176.7" font-size="7.7" text-anchor="end" font-weight="normal" font-style="normal" fill="#2a2a2a" stroke="#2a2a2a" stroke-width="0.26">No CRS:</text>
<text x="39" y="188.3" font-size="7.7" text-anchor="end" font-weight="normal" font-style="normal" fill="#2a2a2a" stroke="#2a2a2a" stroke-width="0.26">CRS:</text>
<text x="6.8" y="362.9" font-size="7.3" text-anchor="start" font-weight="normal" font-style="normal" fill="#2a2a2a" stroke="#2a2a2a" stroke-width="0.26">No. at risk</text>
<text x="39" y="374.4" font-size="7.7" text-anchor="end" font-weight="normal" font-style="normal" fill="#2a2a2a" stroke="#2a2a2a" stroke-width="0.26">No CRS:</text>
<text x="39" y="386" font-size="7.7" text-anchor="end" font-weight="normal" font-style="normal" fill="#2a2a2a" stroke="#2a2a2a" stroke-width="0.26">CRS:</text>
</g></svg></body></html>
